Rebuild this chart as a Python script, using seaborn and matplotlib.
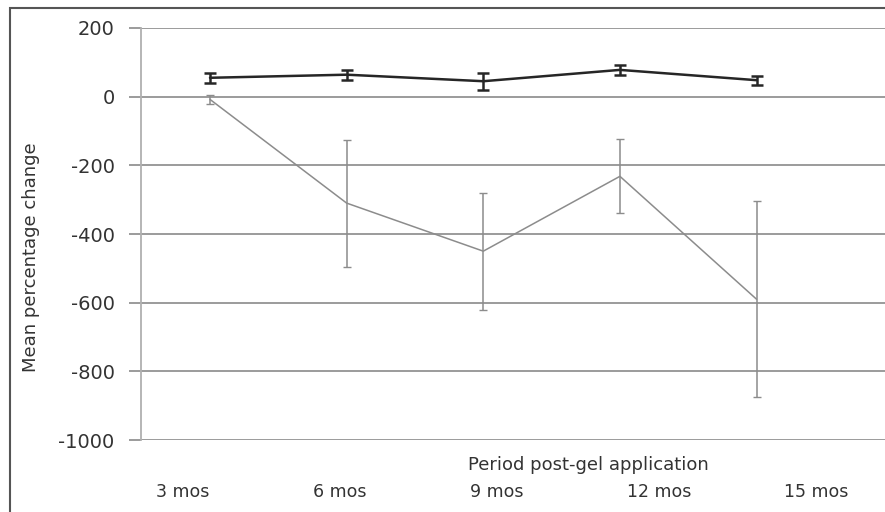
"""
plot.py
Mean percentage change over the period post-gel application,
two series with error bars. Saves out.png (885x512).
"""

import pandas as pd
import matplotlib.pyplot as plt
import seaborn as sns
from matplotlib.patches import Rectangle

# ----------------------------------------------------------------------
# Data
# ----------------------------------------------------------------------
PERIODS = ["3 mos", "6 mos", "9 mos", "12 mos", "15 mos"]

upper_mean = [55, 64, 45, 78, 48]
upper_err = [14, 15, 25, 15, 13]

lower_mean = [-8, -310, -450, -232, -590]
lower_err = [14, 185, 170, 108, 285]

# where the category labels sit along the x axis (they are offset in the original)
LABEL_POS = [-0.2, 0.95, 2.10, 3.29, 4.44]


def main():
    sns.set_style("white")
    plt.rcParams["font.family"] = ["DejaVu Sans"]

    x = list(range(len(PERIODS)))
    df = pd.DataFrame({
        "x": x + x,
        "value": upper_mean + lower_mean,
        "series": ["upper"] * len(x) + ["lower"] * len(x),
    })

    fig = plt.figure(figsize=(8.85, 5.12), dpi=100)
    ax = fig.add_axes([141 / 885, 1 - 440 / 512, 744 / 885, 412 / 512])

    # gridlines first so the series sit on top
    ax.set_ylim(-1000, 200)
    ax.set_yticks(range(-1000, 201, 200))
    ax.yaxis.grid(True, color="#939393", linewidth=1.3)
    ax.set_axisbelow(True)

    sns.lineplot(data=df, x="x", y="value", hue="series",
                 palette={"upper": "#262626", "lower": "#8c8c8c"},
                 linewidth=1.6, legend=False, ax=ax, zorder=3)
    for ln, lw in zip(ax.lines, [1.8, 1.1]):
        ln.set_linewidth(lw)

    ax.errorbar(x, upper_mean, yerr=upper_err, fmt="none", ecolor="#262626",
                elinewidth=1.8, capsize=4, capthick=1.8, zorder=4)
    ax.errorbar(x, lower_mean, yerr=lower_err, fmt="none", ecolor="#8c8c8c",
                elinewidth=1.1, capsize=3, capthick=1.0, zorder=4)

    ax.set_xlim(-0.505, 4.94)
    ax.set_xticks(LABEL_POS)
    ax.set_xticklabels(PERIODS, fontsize=12.5, color="#333333")
    ax.tick_params(axis="x", length=0, pad=31)
    ax.tick_params(axis="y", length=9, width=1.3, color="#939393",
                   labelsize=14, labelcolor="#333333", pad=10, left=True)
    ax.set_yticklabels([str(v) for v in range(-1000, 201, 200)])

    for side in ["top", "right", "bottom"]:
        ax.spines[side].set_visible(False)
    ax.spines["left"].set_color("#b0b0b0")
    ax.spines["left"].set_linewidth(1.3)

    ax.set_xlabel("Period post-gel application", fontsize=13, color="#333333")
    ax.xaxis.set_label_coords((588 - 141) / 744, (440 - 465) / 412)
    ax.xaxis.label.set_va("center")
    ax.set_ylabel("Mean percentage change", fontsize=13, color="#333333")
    ax.yaxis.set_label_coords((31 - 141) / 744, (440 - 257) / 412)
    ax.yaxis.label.set_va("center")

    # outer frame of the original figure
    fig.patches.append(Rectangle((10 / 885, -0.1), 1.2, 1 - 8 / 512 + 0.1,
                                 transform=fig.transFigure, fill=False,
                                 edgecolor="#555555", linewidth=1.5))

    fig.savefig("out.png", dpi=100)
    plt.close(fig)


if __name__ == "__main__":
    main()
